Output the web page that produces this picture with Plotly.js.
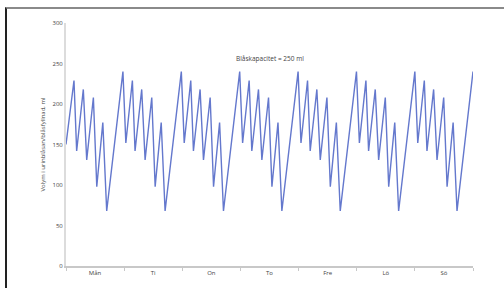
<!DOCTYPE html>
<html>
<head>
<meta charset="utf-8">
<script src="https://cdn.plot.ly/plotly-3.0.1.min.js"></script>
<style>
  html, body { margin: 0; padding: 0; background: #fff; }
  #chart { width: 504px; height: 288px; }
  #frame { position: absolute; left: 5px; top: 7px; width: 499px; height: 281px;
           border-top: 2px solid #8a8a8a; border-left: 2px solid #222; pointer-events: none; }
</style>
</head>
<body>
<div id="chart"></div>
<div id="frame"></div>
<script>
// Hours since Monday 00:00
var hours = [
  0, 3.3, 4.4, 7.15, 8.55, 11.3, 12.7, 15.2, 16.8, 23.5,
  24.7, 27.4, 28.5, 31.25, 32.65, 35.4, 36.8, 39.3, 40.9, 47.6,
  48.8, 51.5, 52.6, 55.35, 56.75, 59.5, 60.9, 63.4, 65.0, 71.7,
  72.9, 75.6, 76.7, 79.45, 80.85, 83.6, 85.0, 87.5, 89.1, 95.8,
  97.0, 99.7, 100.8, 103.55, 104.95, 107.7, 109.1, 111.6, 113.2, 119.9,
  121.1, 123.8, 124.9, 127.65, 129.05, 131.8, 133.2, 135.7, 137.3, 144.0,
  145.2, 147.9, 149.0, 151.75, 153.15, 155.9, 157.3, 159.8, 161.4, 168.0
];
// Bladder volume, ml
var volume = [
  150, 229, 142, 218, 131, 208, 98, 177, 68, 240,
  152, 229, 142, 218, 131, 208, 98, 177, 68, 240,
  152, 229, 142, 218, 131, 208, 98, 177, 68, 240,
  152, 229, 142, 218, 131, 208, 98, 177, 68, 240,
  152, 229, 142, 218, 131, 208, 98, 177, 68, 240,
  152, 229, 142, 218, 131, 208, 98, 177, 68, 240,
  152, 229, 142, 218, 131, 208, 98, 177, 68, 240
];
var dayCenters = [12, 36, 60, 84, 108, 132, 156];
var dayLabels = ["Mån", "Ti", "On", "To", "Fre", "Lö", "Sö"];
var yTicks = [0, 50, 100, 150, 200, 250, 300];

var trace = {
  x: hours, y: volume, type: "scatter", mode: "lines",
  line: { color: "rgb(100,120,205)", width: 1.4 },
  hoverinfo: "skip"
};

var layout = {
  width: 504, height: 288,
  margin: { l: 66, r: 31, t: 23, b: 21.5 },
  paper_bgcolor: "#fff", plot_bgcolor: "#fff",
  showlegend: false,
  font: { family: "Open Sans, Liberation Sans, sans-serif", size: 6, color: "#444" },
  xaxis: {
    range: [0, 168], tickmode: "array", tickvals: dayCenters, ticktext: dayLabels,
    showgrid: false, zeroline: false, showline: true, linecolor: "#c8c8c8", linewidth: 1.5,
    ticks: "", tickfont: { size: 6, color: "#444" },
    minor: { tickmode: "linear", tick0: 0, dtick: 24, ticks: "outside", ticklen: 3, tickcolor: "#c8c8c8", showgrid: false }
  },
  yaxis: {
    range: [0, 300], tickmode: "array", tickvals: yTicks,
    showgrid: false, zeroline: false, showline: true, linecolor: "#dcdcdc", linewidth: 2,
    ticks: "", ticklen: 0, tickfont: { size: 6, color: "#444" },
    title: { text: "Volym i urinblåsan/blåsfyllnad, ml", font: { size: 6, color: "#444" }, standoff: 6 }
  },
  annotations: [{
    x: 84.3, y: 256, xref: "x", yref: "y", text: "Blåskapacitet = 250 ml",
    showarrow: false, font: { size: 6.5, color: "#444" }
  }]
};

Plotly.newPlot("chart", [trace], layout, { staticPlot: true, displayModeBar: false });
</script>
</body>
</html>
